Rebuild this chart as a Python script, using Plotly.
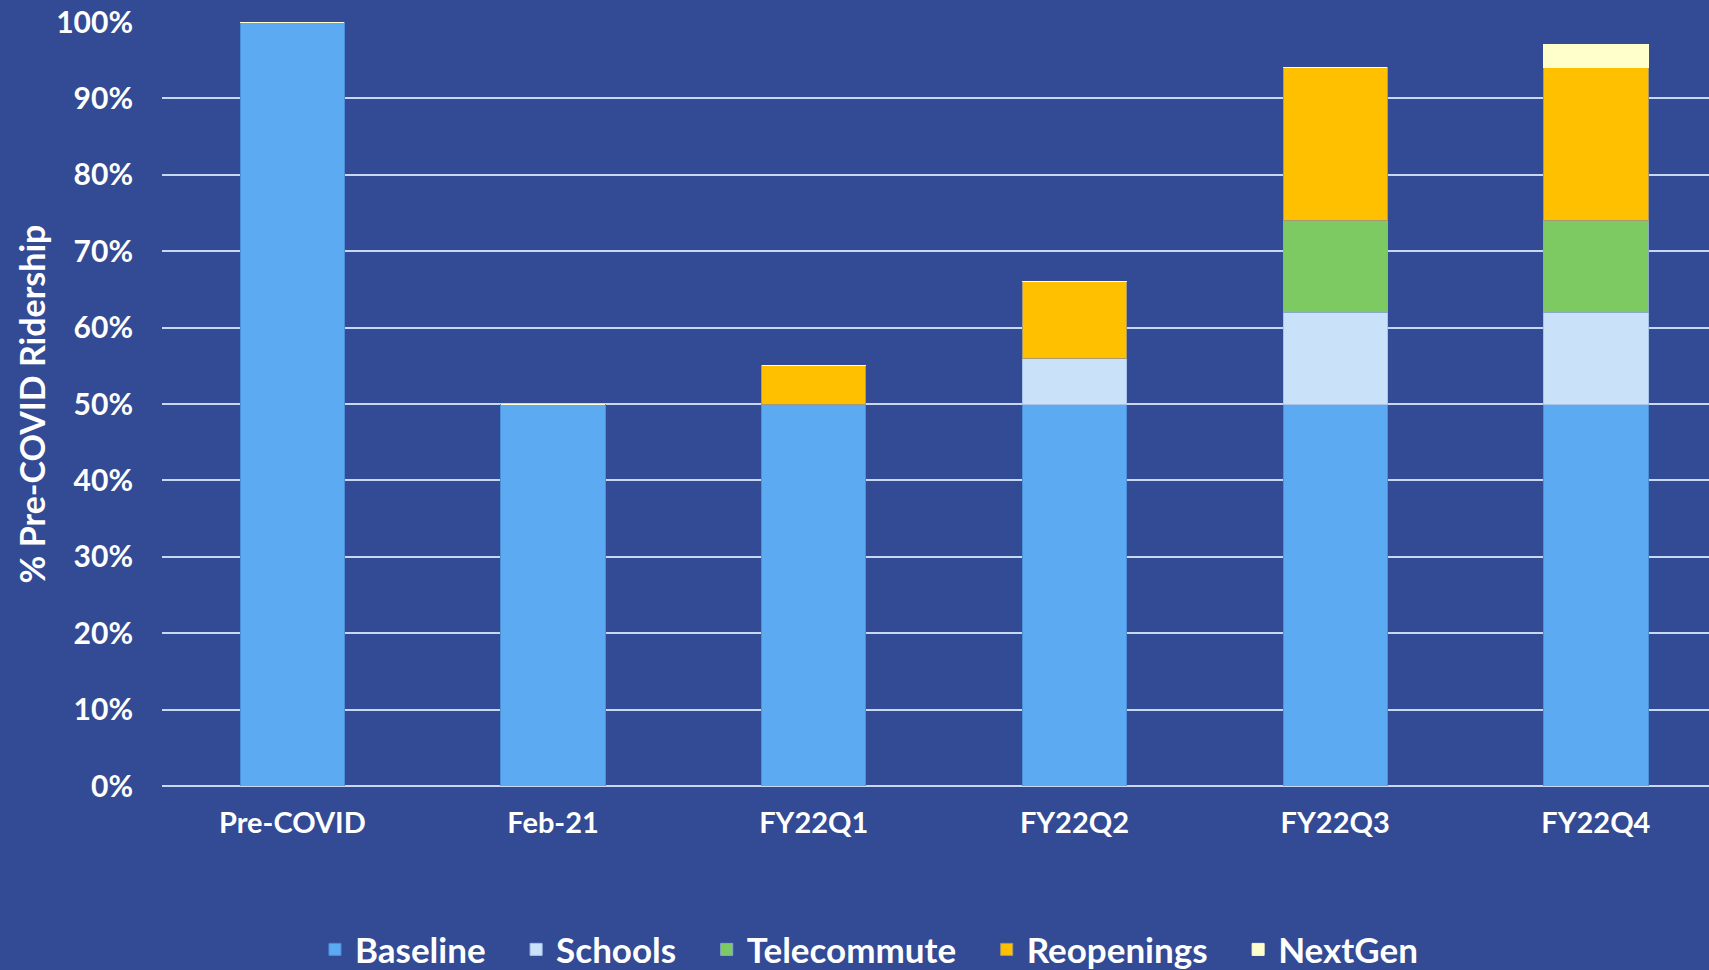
import plotly.graph_objects as go

categories = ["Pre-COVID", "Feb-21", "FY22Q1", "FY22Q2", "FY22Q3", "FY22Q4"]
baseline = [100, 50, 50, 50, 50, 50]
schools = [0, 0, 0, 6, 12, 12]
telecommute = [0, 0, 0, 0, 12, 12]
reopenings = [0, 0, 5, 10, 20, 20]
nextgen = [0, 0, 0, 0, 0, 3]

series = [
    ("Baseline", baseline, "#5BAAF2", "#4A8FD8"),
    ("Schools", schools, "#C9E2FA", "#A9C4E8"),
    ("Telecommute", telecommute, "#7DC962", "#8AA8C8"),
    ("Reopenings", reopenings, "#FFC000", "#A89A70"),
    ("NextGen", nextgen, "#FFFFCC", "#FFFFCC"),
]

BG = "#334A94"
FONT = "Lato"
PAD = "\u00a0" * 3

fig = go.Figure()
for i, (name, vals, color, edge) in enumerate(series):
    label = name + (PAD if i < len(series) - 1 else "")
    fig.add_trace(go.Bar(
        name=label, x=categories, y=vals,
        marker=dict(color=color, line=dict(color=edge, width=1)),
        hovertemplate=name + ": %{y}%<extra></extra>",
    ))

fig.update_layout(
    barmode="stack",
    bargap=0.6,
    width=1709, height=970,
    paper_bgcolor=BG, plot_bgcolor=BG,
    margin=dict(l=162, r=0, t=22, b=184),
    font=dict(family=FONT, color="white", size=26),
    showlegend=True,
    legend=dict(
        orientation="h", x=0.457, xanchor="center",
        yref="container", y=0.021, yanchor="middle",
        font=dict(family=FONT, size=35, color="white", weight="bold"),
        traceorder="normal", itemwidth=30,
    ),
    xaxis=dict(
        range=[-0.5, 5.434],
        showgrid=False, showline=False, ticks="", ticklabelstandoff=17,
        tickfont=dict(family=FONT, size=29, color="white", weight="bold"),
    ),
    yaxis=dict(
        range=[0, 100], dtick=10, ticksuffix="%",
        showgrid=True, gridcolor="#C8D8F2", gridwidth=2,
        zeroline=True, zerolinecolor="#C8D8F2", zerolinewidth=2,
        showline=False, ticks="", ticklabelstandoff=28,
        tickfont=dict(family=FONT, size=30, color="white", weight="bold"),
        title=dict(text="% Pre-COVID Ridership", standoff=0,
                   font=dict(family=FONT, size=34, color="white", weight="bold")),
    ),
)

fig.write_html(
    "out.html",
    config={"displayModeBar": False},
    post_script="document.body.style.margin='0';document.body.style.overflow='hidden';",
)
